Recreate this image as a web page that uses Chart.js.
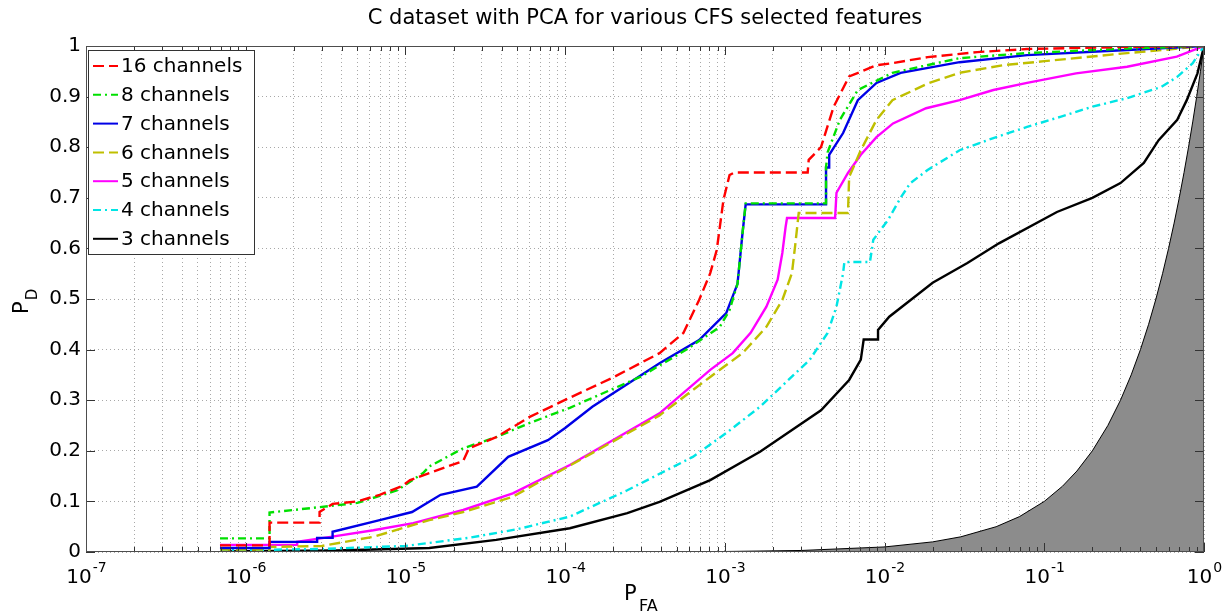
<!DOCTYPE html>
<html lang="en">
<head>
<meta charset="UTF-8" />
<title>C dataset with PCA for various CFS selected features</title>
<script src="https://cdn.jsdelivr.net/npm/chart.js"></script>
<style>
  html, body { margin: 0; padding: 0; background: #fff; }
  #wrap { width: 1229px; height: 614px; position: relative; }
</style>
</head>
<body>
<div id="wrap"><canvas id="roc"></canvas></div>
<script>
// values (P_FA on a log axis, P_D linear)
const pfa16 = [6.9e-7, 1.41e-6, 1.41e-6, 2.9e-6, 2.9e-6, 3.5e-6, 5.0e-6, 6.9e-6, 9.5e-6, 1.07e-5, 1.41e-5, 2.3e-5, 2.5e-5, 3.7e-5, 6.0e-5, 1.07e-4, 2.0e-4, 2.95e-4, 3.9e-4, 5.5e-4, 6.9e-4, 8.1e-4, 8.9e-4, 9.8e-4, 1.07e-3, 1.15e-3, 3.3e-3, 3.35e-3, 4.0e-3, 4.8e-3, 6.0e-3, 7.1e-3, 8.9e-3, 1.12e-2, 1.86e-2, 3.8e-2, 7.8e-2, 0.3, 1];
const pd16  = [0.013, 0.013, 0.058, 0.058, 0.079, 0.095, 0.100, 0.113, 0.130, 0.142, 0.156, 0.180, 0.205, 0.227, 0.267, 0.305, 0.345, 0.373, 0.393, 0.433, 0.498, 0.551, 0.597, 0.696, 0.745, 0.750, 0.750, 0.775, 0.800, 0.880, 0.940, 0.949, 0.962, 0.966, 0.978, 0.988, 0.994, 0.998, 1];

const pfa8 = [6.9e-7, 1.41e-6, 1.41e-6, 2.6e-6, 5.0e-6, 8.9e-6, 1.29e-5, 1.41e-5, 2.3e-5, 3.7e-5, 6.0e-5, 1.07e-4, 2.95e-4, 5.75e-4, 9.3e-4, 1.07e-3, 1.2e-3, 1.29e-3, 1.35e-3, 4.3e-3, 4.3e-3, 4.4e-3, 5.25e-3, 6.8e-3, 1.12e-2, 2.95e-2, 7.8e-2, 0.33, 1];
const pd8  = [0.027, 0.027, 0.078, 0.087, 0.097, 0.122, 0.156, 0.169, 0.205, 0.227, 0.255, 0.285, 0.346, 0.400, 0.445, 0.478, 0.530, 0.630, 0.689, 0.689, 0.760, 0.790, 0.854, 0.913, 0.947, 0.976, 0.986, 0.995, 1];

const pfa7 = [6.9e-7, 1.41e-6, 1.41e-6, 2.8e-6, 2.8e-6, 3.5e-6, 3.5e-6, 6.9e-6, 1.1e-5, 1.66e-5, 2.8e-5, 4.4e-5, 7.8e-5, 1.0e-4, 1.48e-4, 3.9e-4, 6.9e-4, 1.02e-3, 1.2e-3, 1.29e-3, 1.35e-3, 4.3e-3, 4.3e-3, 4.5e-3, 4.5e-3, 5.5e-3, 6.8e-3, 8.9e-3, 1.26e-2, 2.95e-2, 7.8e-2, 0.33, 1];
const pd7  = [0.008, 0.008, 0.020, 0.020, 0.028, 0.028, 0.040, 0.063, 0.079, 0.113, 0.129, 0.188, 0.221, 0.245, 0.287, 0.373, 0.419, 0.472, 0.530, 0.630, 0.687, 0.687, 0.760, 0.760, 0.785, 0.828, 0.893, 0.927, 0.947, 0.968, 0.982, 0.992, 1];

const pfa6 = [6.9e-7, 1.41e-6, 1.41e-6, 3.0e-6, 6.3e-6, 1.41e-5, 2.3e-5, 4.7e-5, 7.2e-5, 9.3e-5, 3.9e-4, 8.1e-4, 1.29e-3, 1.82e-3, 2.29e-3, 2.63e-3, 2.75e-3, 2.9e-3, 5.9e-3, 6.0e-3, 7.1e-3, 8.9e-3, 1.12e-2, 1.87e-2, 2.95e-2, 5.5e-2, 0.1, 0.33, 0.6, 1];
const pd6  = [0.005, 0.005, 0.010, 0.012, 0.030, 0.063, 0.079, 0.109, 0.142, 0.160, 0.270, 0.346, 0.393, 0.445, 0.498, 0.551, 0.603, 0.670, 0.670, 0.741, 0.794, 0.854, 0.893, 0.926, 0.947, 0.962, 0.970, 0.986, 0.993, 1];

const pfa5 = [6.9e-7, 2.1e-6, 2.1e-6, 3.4e-6, 6.3e-6, 1.12e-5, 2.3e-5, 4.7e-5, 1.07e-4, 3.9e-4, 8.1e-4, 1.12e-3, 1.45e-3, 1.82e-3, 2.14e-3, 2.29e-3, 2.4e-3, 2.45e-3, 4.9e-3, 5.0e-3, 5.9e-3, 7.1e-3, 8.9e-3, 1.13e-2, 1.82e-2, 2.95e-2, 4.8e-2, 7.8e-2, 0.158, 0.33, 0.676, 1];
const pd5  = [0.014, 0.014, 0.020, 0.030, 0.043, 0.057, 0.083, 0.116, 0.172, 0.274, 0.360, 0.393, 0.433, 0.485, 0.538, 0.591, 0.642, 0.660, 0.660, 0.710, 0.749, 0.785, 0.820, 0.847, 0.877, 0.893, 0.913, 0.927, 0.946, 0.959, 0.979, 1];

const pfa4 = [6.9e-7, 3.0e-6, 1.0e-5, 2.5e-5, 5.0e-5, 1.07e-4, 2.45e-4, 6.3e-4, 1.02e-3, 1.66e-3, 3.4e-3, 4.4e-3, 5.0e-3, 5.5e-3, 5.6e-3, 8.1e-3, 8.5e-3, 1.05e-2, 1.26e-2, 1.45e-2, 1.86e-2, 2.95e-2, 4.8e-2, 7.8e-2, 0.126, 0.2, 0.33, 0.54, 0.68, 0.85, 1];
const pd4  = [0.003, 0.006, 0.012, 0.028, 0.045, 0.070, 0.122, 0.188, 0.235, 0.287, 0.380, 0.433, 0.485, 0.551, 0.573, 0.573, 0.617, 0.656, 0.700, 0.729, 0.755, 0.794, 0.818, 0.840, 0.860, 0.880, 0.897, 0.919, 0.939, 0.966, 1];

const pfa3 = [6.9e-7, 3.7e-6, 1.41e-5, 3.7e-5, 1.07e-4, 2.45e-4, 3.9e-4, 8.1e-4, 1.66e-3, 4.0e-3, 6.0e-3, 7.1e-3, 7.4e-3, 9.1e-3, 9.1e-3, 1.07e-2, 2.0e-2, 3.3e-2, 5.2e-2, 0.12, 0.2, 0.3, 0.42, 0.52, 0.68, 0.78, 0.91, 1];
const pd3  = [0.001, 0.003, 0.008, 0.024, 0.047, 0.077, 0.099, 0.142, 0.198, 0.280, 0.340, 0.380, 0.420, 0.420, 0.439, 0.465, 0.532, 0.571, 0.610, 0.672, 0.700, 0.729, 0.769, 0.814, 0.854, 0.893, 0.946, 1];

// chance line P_D = P_FA (shaded)
const chancePfa = [1e-3, 3e-3, 0.01, 0.02, 0.03, 0.05, 0.07, 0.1, 0.13, 0.16, 0.2, 0.25, 0.3, 0.35, 0.4, 0.45, 0.5, 0.55, 0.6, 0.65, 0.7, 0.75, 0.8, 0.85, 0.9, 0.95, 1];
const chancePd  = [1e-3, 3e-3, 0.01, 0.02, 0.03, 0.05, 0.07, 0.1, 0.13, 0.16, 0.2, 0.25, 0.3, 0.35, 0.4, 0.45, 0.5, 0.55, 0.6, 0.65, 0.7, 0.75, 0.8, 0.85, 0.9, 0.95, 1];

const seriesNames = ["16 channels", "8 channels", "7 channels", "6 channels", "5 channels", "4 channels", "3 channels"];
const xTickExps = [-7, -6, -5, -4, -3, -2, -1, 0];
const xMinorSteps = [2, 3, 4, 5, 6, 7, 8, 9];
const yTickLabels = ["0", "0.1", "0.2", "0.3", "0.4", "0.5", "0.6", "0.7", "0.8", "0.9", "1"];

const pts = (xs, ys) => xs.map((v, i) => ({ x: v, y: ys[i] }));

function curve(label, xs, ys, color, dash) {
    return {
        label: label,
        data: pts(xs, ys),
        borderColor: color,
        backgroundColor: color,
        borderWidth: 2.4,
        borderDash: dash,
        pointRadius: 0,
        tension: 0,
        fill: false,
        order: 1,
    };
}

const dashed = [11, 5];
const dashDot = [8, 4, 2, 4];

Chart.defaults.font.family = "'DejaVu Sans', sans-serif";
Chart.defaults.color = "#000";

// MATLAB style frame, tick marks, tick labels with exponents, axis labels, key
const matlabAxes = {
    id: "matlabAxes",
    afterDraw(chart) {
        const { ctx, chartArea: a, scales } = chart;
        const x = scales.x, y = scales.y;
        ctx.save();

        // inward tick marks
        ctx.strokeStyle = "#333";
        ctx.lineWidth = 1;
        ctx.beginPath();
        x.ticks.forEach((t) => {
            const px = Math.round(x.getPixelForValue(t.value)) + 0.5;
            const len = t.major ? 9 : 5;
            ctx.moveTo(px, a.bottom);
            ctx.lineTo(px, a.bottom - len);
            ctx.moveTo(px, a.top);
            ctx.lineTo(px, a.top + len);
        });
        y.ticks.forEach((t) => {
            const py = Math.round(y.getPixelForValue(t.value)) + 0.5;
            ctx.moveTo(a.left, py);
            ctx.lineTo(a.left + 9, py);
            ctx.moveTo(a.right, py);
            ctx.lineTo(a.right - 9, py);
        });
        ctx.stroke();

        // frame
        ctx.strokeStyle = "#4d4d4d";
        ctx.strokeRect(a.left + 0.5, a.top + 0.5, a.right - a.left - 1, a.bottom - a.top - 1);

        // x tick labels 10^n
        ctx.fillStyle = "#000";
        ctx.textBaseline = "alphabetic";
        ctx.textAlign = "left";
        xTickExps.forEach((e) => {
            const px = x.getPixelForValue(Math.pow(10, e));
            ctx.font = "20px 'DejaVu Sans'";
            const wBase = ctx.measureText("10").width;
            ctx.font = "14px 'DejaVu Sans'";
            const wExp = ctx.measureText(String(e)).width;
            const start = px - (wBase + wExp) / 2;
            ctx.font = "20px 'DejaVu Sans'";
            ctx.fillText("10", start, 583);
            ctx.font = "14px 'DejaVu Sans'";
            ctx.fillText(String(e), start + wBase + 1, 572);
        });

        // x axis label P_FA
        ctx.font = "21px 'DejaVu Sans'";
        ctx.fillText("P", 624, 600);
        ctx.font = "16px 'DejaVu Sans'";
        ctx.fillText("FA", 639, 611);

        // y axis label P_D
        ctx.save();
        ctx.translate(28, 314);
        ctx.rotate(-Math.PI / 2);
        ctx.font = "21px 'DejaVu Sans'";
        ctx.fillText("P", 0, 0);
        const wP = ctx.measureText("P").width;
        ctx.font = "15px 'DejaVu Sans'";
        ctx.fillText("D", wP + 1, 9);
        ctx.restore();

        // key
        const kx = a.left + 2, ky = a.top + 4, kw = 166, kh = 204, row = 28.8;
        ctx.fillStyle = "#fff";
        ctx.fillRect(kx, ky, kw, kh);
        ctx.strokeStyle = "#333";
        ctx.lineWidth = 1;
        ctx.strokeRect(kx + 0.5, ky + 0.5, kw, kh);
        ctx.font = "20px 'DejaVu Sans'";
        ctx.textBaseline = "middle";
        seriesNames.forEach((name, i) => {
            const ds = chart.data.datasets[i];
            const cy = ky + 16 + i * row;
            ctx.strokeStyle = ds.borderColor;
            ctx.lineWidth = 2;
            ctx.setLineDash(ds.borderDash || []);
            ctx.beginPath();
            ctx.moveTo(kx + 5, cy);
            ctx.lineTo(kx + 30, cy);
            ctx.stroke();
            ctx.setLineDash([]);
            ctx.fillStyle = "#000";
            ctx.fillText(name, kx + 33, cy + 1);
        });
        ctx.restore();
    },
};

new Chart(document.getElementById("roc"), {
    type: "line",
    data: {
        datasets: [
            curve(seriesNames[0], pfa16, pd16, "#ff0000", dashed),
            curve(seriesNames[1], pfa8, pd8, "#00e000", dashDot),
            curve(seriesNames[2], pfa7, pd7, "#0000e6", []),
            curve(seriesNames[3], pfa6, pd6, "#bfbf00", dashed),
            curve(seriesNames[4], pfa5, pd5, "#ff00ff", []),
            curve(seriesNames[5], pfa4, pd4, "#00e5e5", dashDot),
            curve(seriesNames[6], pfa3, pd3, "#000000", []),
            {
                label: "chance",
                data: pts(chancePfa, chancePd),
                borderColor: "#000",
                borderWidth: 1,
                backgroundColor: "#8c8c8c",
                pointRadius: 0,
                tension: 0,
                fill: "origin",
                order: 10,
            },
        ],
    },
    options: {
        responsive: true,
        maintainAspectRatio: false,
        devicePixelRatio: 1,
        animation: false,
        events: [],
        layout: { padding: { left: 0, right: 25, top: 0, bottom: 0 } },
        plugins: {
            legend: { display: false },
            tooltip: { enabled: false },
            title: {
                display: true,
                fullSize: false,
                text: "C dataset with PCA for various CFS selected features",
                font: { size: 21, weight: "normal" },
                color: "#000",
                padding: { top: 6, bottom: 14.8 },
            },
        },
        scales: {
            x: {
                type: "logarithmic",
                min: 1e-7,
                max: 1,
                afterBuildTicks: (axis) => {
                    const ticks = [];
                    xTickExps.forEach((e) => {
                        ticks.push({ value: Math.pow(10, e), major: true });
                        if (e < 0) xMinorSteps.forEach((m) => ticks.push({ value: m * Math.pow(10, e), major: false }));
                    });
                    axis.ticks = ticks;
                },
                afterFit: (axis) => { axis.height = 62; },
                ticks: { display: false },
                grid: { color: "rgba(0,0,0,0.34)", lineWidth: 1, drawTicks: false },
                border: { display: false, dash: [1, 3] },
            },
            y: {
                min: 0,
                max: 1,
                afterFit: (axis) => { axis.width = 86; },
                ticks: {
                    stepSize: 0.1,
                    padding: 5,
                    font: { size: 20 },
                    color: "#000",
                    callback: (v, i) => yTickLabels[i],
                },
                grid: { color: "rgba(0,0,0,0.34)", lineWidth: 1, drawTicks: false },
                border: { display: false, dash: [1, 3] },
            },
        },
    },
    plugins: [matlabAxes],
});
</script>
</body>
</html>
